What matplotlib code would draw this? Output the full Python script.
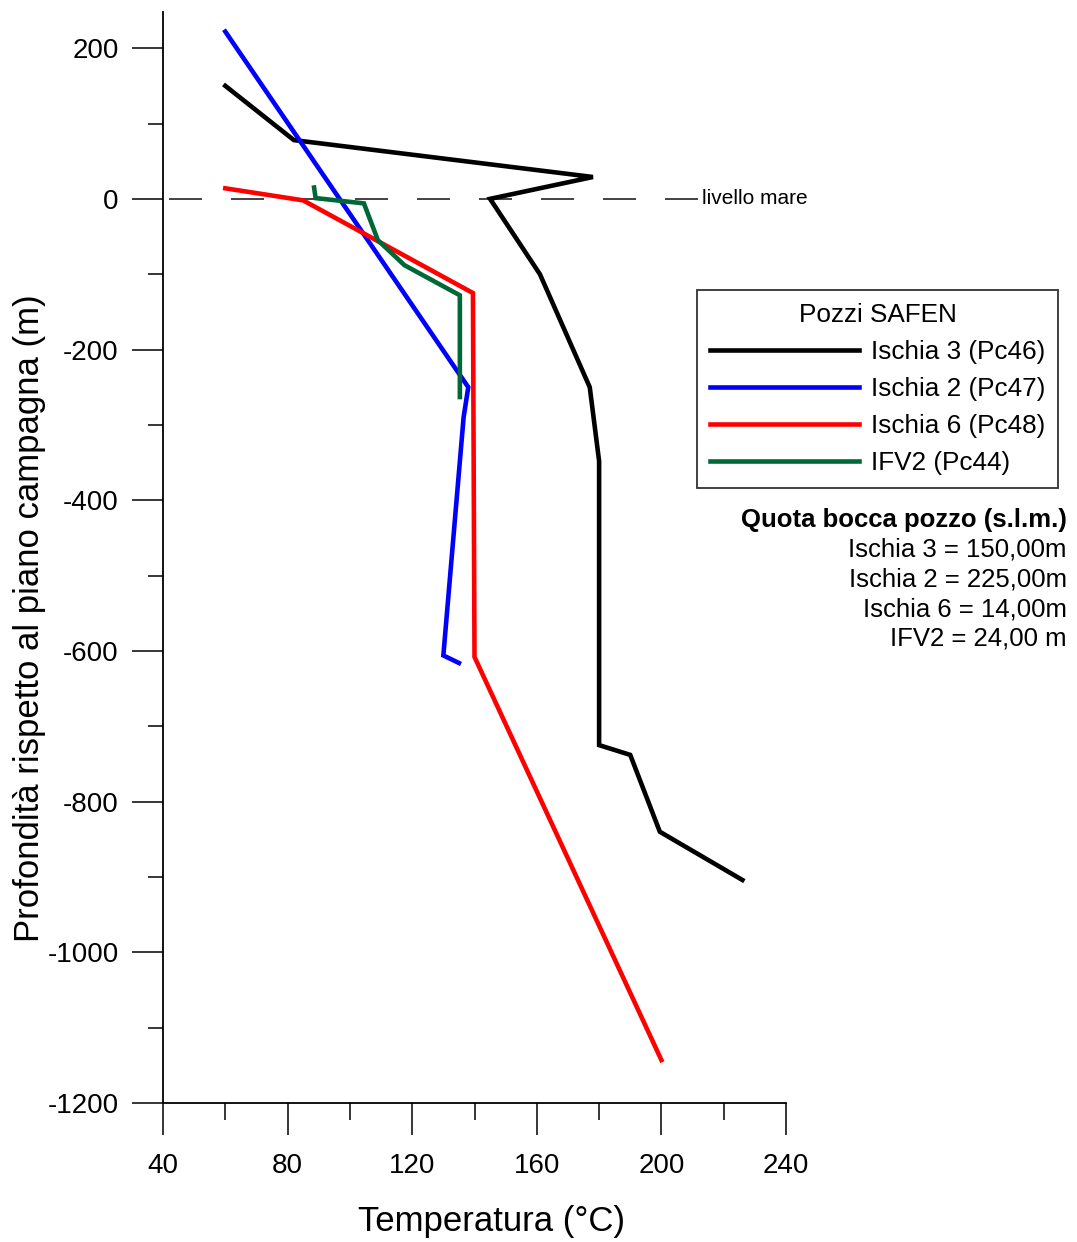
import matplotlib
matplotlib.use('Agg')
import matplotlib.pyplot as plt

plt.rcParams['font.family'] = ['Liberation Sans', 'DejaVu Sans']
plt.rcParams['axes.unicode_minus'] = False

# temperature (°C) / depth (m) profiles
ischia3_t = [60, 82, 178, 145, 161, 177, 180, 180, 190, 199.5, 226]
ischia3_d = [150, 78, 29, 0, -100, -250, -348, -725, -738, -840, -904]

ischia2_t = [60, 138, 136.5, 130, 135]
ischia2_d = [222, -250, -290, -606, -616]

ischia6_t = [60, 85, 139.5, 140, 200]
ischia6_d = [14, -2, -125, -608, -1143]

ifv2_t = [88.5, 89, 104.5, 109, 117.5, 135.3, 135.3]
ifv2_d = [15, 1, -6, -55, -88, -128, -263]

labels = ['Ischia 3 (Pc46)', 'Ischia 2 (Pc47)', 'Ischia 6 (Pc48)', 'IFV2 (Pc44)']
colors = ['black', '#0000ff', '#ff0000', '#006837']

quota_title = 'Quota bocca pozzo (s.l.m.)'
quota_lines = ['Ischia 3 = 150,00m', 'Ischia 2 = 225,00m',
               'Ischia 6 = 14,00m', 'IFV2 = 24,00 m']

fig = plt.figure(figsize=(10.77, 12.42), dpi=100)
ax = fig.add_axes([163 / 1077, 1 - 1103 / 1242, 623 / 1077, 1091 / 1242])

# sea level
ax.plot([42, 213], [0, 0], color='#222222', lw=1.2,
        dashes=(33 * 0.72 / 1.2, 29 * 0.72 / 1.2))
ax.text(213, 0, 'livello mare', fontsize=15, va='center', ha='left')

series = [(ischia3_t, ischia3_d), (ischia2_t, ischia2_d),
          (ischia6_t, ischia6_d), (ifv2_t, ifv2_d)]
for (t, d), lab, c in zip(series, labels, colors):
    ax.plot(t, d, color=c, lw=3.3, label=lab, solid_joinstyle='miter')

ax.set_xlim(40, 240)
ax.set_ylim(-1200, 248)
ax.set_xticks(range(40, 241, 40))
ax.set_xticks(range(60, 241, 40), minor=True)
ax.set_yticks(range(-1200, 201, 200))
ax.set_yticks(range(-1100, 201, 200), minor=True)

for s in ['top', 'right']:
    ax.spines[s].set_visible(False)
for s in ['left', 'bottom']:
    ax.spines[s].set_linewidth(1.3)

ax.tick_params(axis='y', which='major', length=22, width=1.1, pad=10, labelsize=20)
ax.tick_params(axis='y', which='minor', length=11, width=1.1)
ax.tick_params(axis='x', which='major', length=23, width=1.1, pad=13, labelsize=20)
ax.tick_params(axis='x', which='minor', length=12, width=1.1)

fig.text(492 / 1077, 1 - 1222 / 1242, 'Temperatura (°C)', fontsize=25,
         ha='center', va='center')
fig.text(30 / 1077, 1 - 618 / 1242, 'Profondità rispetto al piano campagna (m)',
         fontsize=25, ha='center', va='center', rotation=90)

leg = ax.legend(title='Pozzi SAFEN', loc='upper right',
                bbox_to_anchor=(1058 / 1077, 1 - 290 / 1242),
                bbox_transform=fig.transFigure, borderaxespad=0,
                fontsize=18.8, title_fontsize=18.8, frameon=True,
                fancybox=False, edgecolor='black', handlelength=5.7,
                handletextpad=0.45, labelspacing=0.5, borderpad=0.5)
leg.get_frame().set_linewidth(1.3)
for h in leg.get_lines():
    h.set_linewidth(3.3)

fig.text(1067 / 1077, 1 - 520 / 1242, quota_title, fontsize=18.5,
         fontweight='bold', ha='right', va='center')
for i, line in enumerate(quota_lines):
    fig.text(1067 / 1077, 1 - (550 + 29.5 * i) / 1242, line, fontsize=18.5,
             ha='right', va='center')

fig.savefig('out.png', dpi=100)
